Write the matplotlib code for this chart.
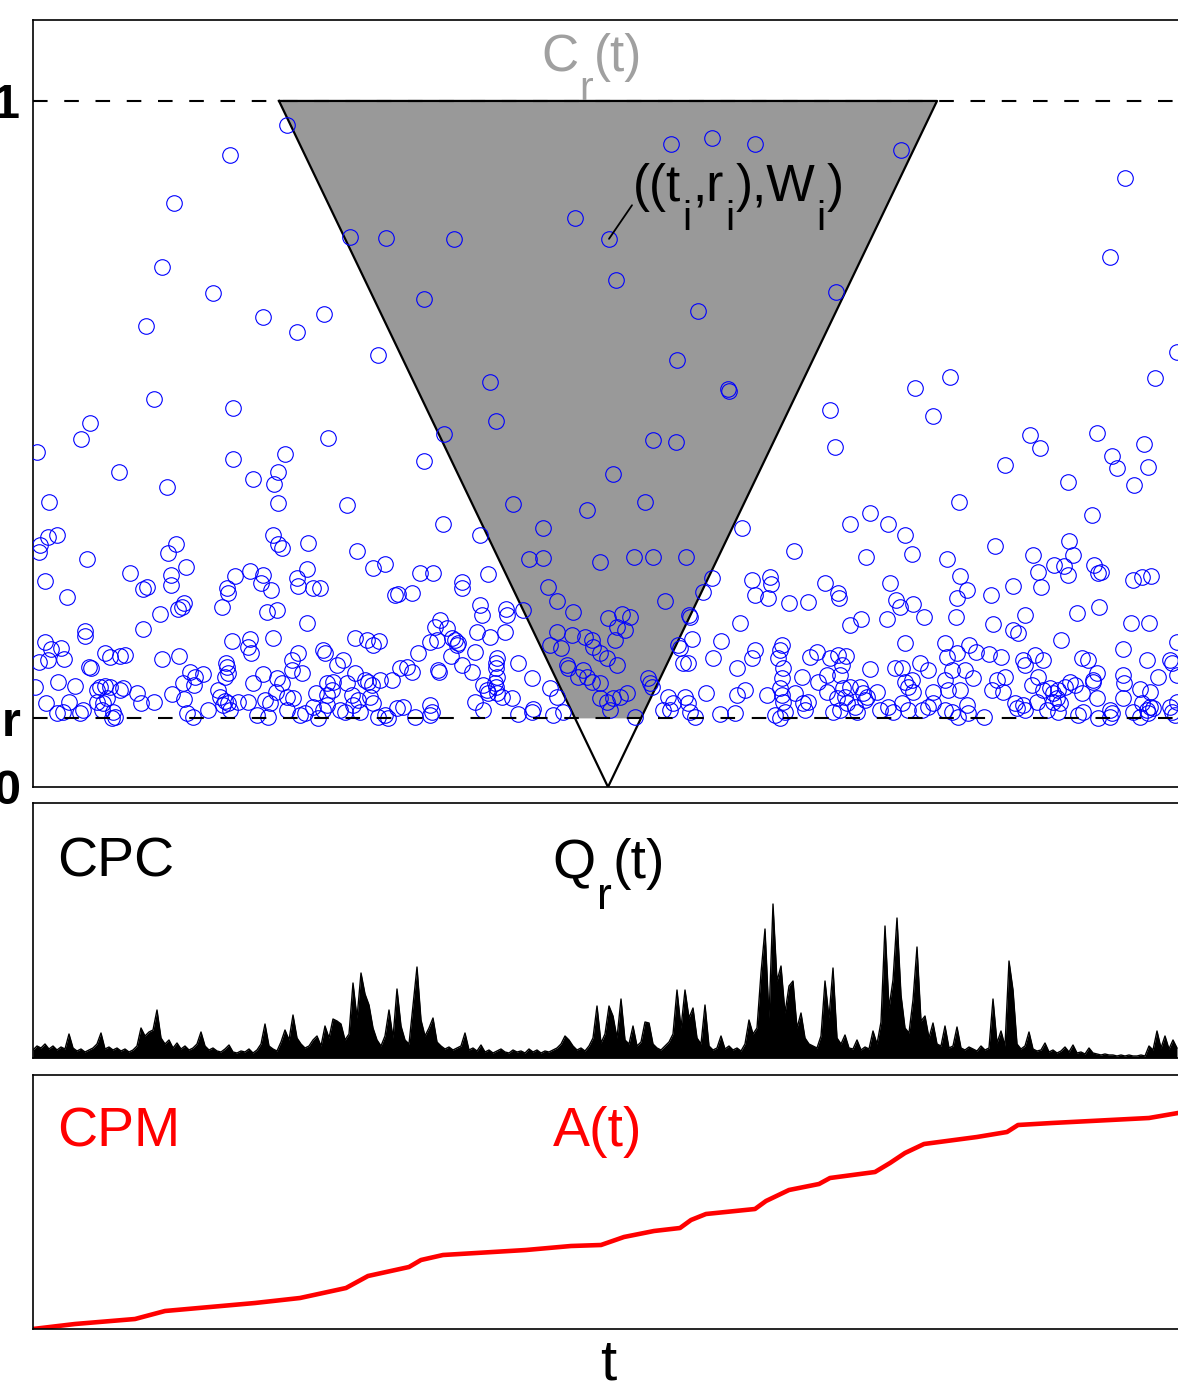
import numpy as np
import matplotlib
matplotlib.use("Agg")
import matplotlib.pyplot as plt

plt.rcParams['font.family'] = ['Liberation Sans', 'DejaVu Sans']

# --- events (t_i, r_i), t in arbitrary time units, r in [0, 1] ---
events_upper = [
    (254, .965), (197, .921), (141, .851), (129, .758), (180, .720), (113, .672), (230, .685),
    (264, .663), (291, .690), (121, .566), (200, .552), (57, .531), (48, .507), (4, .488),
    (295, .509), (200, .478), (252, .485), (86, .459), (134, .437), (220, .449), (245, .459),
    (241, .442), (245, .414), (16, .415),
    (317, .802), (353, .800), (421, .799), (542, .829), (576, .799), (583, .739), (391, .711),
    (345, .630), (457, .590), (463, .534), (411, .515), (391, .475), (580, .456), (314, .411),
    (480, .413), (554, .404), (510, .378), (410, .383), (447, .367),
    (638, .937), (679, .946), (722, .937), (868, .929), (665, .694), (644, .622), (695, .580),
    (696, .577), (803, .722), (620, .506), (643, .503), (612, .415), (797, .550), (802, .496),
    (709, .378), (817, .383), (837, .399), (855, .383), (872, .367), (882, .582),
    (1092, .888), (1077, .773), (1144, .634), (1122, .596), (917, .598), (900, .541),
    (997, .513), (1007, .494), (1064, .516), (1111, .500), (1079, .483), (1084, .465),
    (1115, .466), (972, .469), (1035, .445), (1101, .440), (926, .415), (1059, .397),
]

events_left = [
    (7, .353), (6, .343), (15, .364), (24, .367), (54, .332), (12, .300), (34, .277), (97, .312),
    (110, .289), (114, .292), (127, .252), (110, .230), (135, .341), (143, .354), (138, .309),
    (138, .294), (153, .321), (145, .259), (149, .262), (151, .268), (189, .262), (194, .290),
    (195, .283), (202, .308), (217, .315), (230, .309), (228, .297), (238, .287), (234, .255),
    (244, .258), (240, .367), (245, .354), (249, .348), (275, .356), (274, .318), (264, .305),
    (265, .293), (280, .290), (274, .239), (199, .213), (217, .216), (215, .204), (218, .195),
    (240, .217), (290, .200), (292, .195), (52, .227), (52, .220), (12, .211), (18, .201),
    (28, .203), (6, .182), (15, .185), (31, .187), (56, .175), (58, .173), (72, .195), (77, .190),
    (87, .191), (92, .192), (129, .187), (146, .191), (157, .168), (162, .160), (170, .165),
    (150, .152), (161, .149), (25, .153), (42, .147), (2, .146), (64, .141), (67, .146),
    (72, .147), (77, .146), (87, .141), (90, .144), (104, .137), (139, .136), (151, .128),
    (13, .122), (36, .124), (64, .124), (70, .122), (74, .130), (108, .122), (121, .124),
    (185, .141), (187, .131), (192, .125), (195, .122), (190, .120), (194, .175), (195, .166),
    (192, .160), (193, .181), (220, .152), (230, .165), (244, .159), (249, .152), (259, .171),
    (269, .166), (265, .195), (259, .185), (243, .138), (254, .131), (260, .130), (205, .124),
    (215, .124), (232, .127), (237, .122), (283, .137), (294, .152), (280, .117), (24, .108),
    (30, .109), (47, .108), (69, .112), (80, .109), (82, .102), (79, .101), (50, .112),
    (154, .108), (160, .102), (175, .112), (197, .112), (224, .105), (235, .102), (254, .112),
    (267, .105), (272, .108), (285, .101), (290, .112),
]

events_mid = [
    (324, .344), (340, .319), (352, .325), (387, .312), (400, .312), (362, .280), (365, .281),
    (379, .283), (429, .299), (429, .290), (455, .310), (287, .290), (447, .265), (449, .251),
    (473, .259), (474, .251), (490, .258), (444, .226), (457, .219), (472, .226), (407, .243),
    (402, .233), (414, .232), (419, .217), (422, .214), (425, .210), (424, .207), (397, .211),
    (404, .214), (322, .217), (334, .214), (340, .207), (346, .213), (385, .195), (418, .191),
    (442, .197), (310, .185), (304, .178), (374, .175), (367, .173), (379, .168), (405, .171),
    (406, .168), (429, .178), (439, .168), (464, .188), (463, .181), (463, .173), (464, .160),
    (462, .152), (463, .146), (485, .181), (499, .159), (322, .166), (332, .156), (335, .153),
    (339, .149), (300, .153), (299, .141), (294, .134), (314, .152), (347, .156), (359, .156),
    (450, .149), (454, .141), (455, .137), (464, .137), (469, .131), (479, .130), (517, .144),
    (524, .131), (319, .134), (325, .127), (320, .120), (337, .131), (340, .122), (294, .120),
    (307, .112), (312, .109), (327, .109), (345, .102), (352, .105), (355, .101), (364, .115),
    (370, .117), (382, .102), (397, .120), (399, .109), (397, .105), (442, .124), (450, .112),
    (485, .106), (499, .109), (500, .114), (520, .105), (530, .109),
]

events_cone = [
    (496, .332), (510, .334), (567, .328), (515, .292), (524, .271), (540, .255), (575, .246),
    (584, .233), (524, .226), (539, .222), (552, .219), (559, .214), (560, .204), (517, .207),
    (528, .203), (567, .195), (574, .188), (582, .214), (584, .178), (534, .178), (535, .173),
    (545, .160), (554, .160), (559, .153), (567, .152), (550, .171), (567, .130), (574, .124),
    (580, .130), (577, .112),
    (601, .335), (620, .335), (653, .335), (632, .271), (589, .252), (597, .248), (592, .229),
    (679, .305), (670, .284), (656, .251), (657, .248), (645, .207), (647, .203), (650, .181),
    (655, .181), (615, .159), (617, .152), (619, .146), (594, .137), (587, .131), (602, .102),
]

events_right = [
    (761, .344), (833, .335), (719, .302), (722, .280), (735, .276), (737, .306), (738, .296),
    (756, .268), (775, .270), (792, .297), (805, .283), (806, .276), (857, .297), (863, .273),
    (867, .262), (707, .239), (817, .236), (828, .245), (854, .245), (872, .210), (659, .216),
    (688, .213), (680, .188), (722, .200), (719, .188), (704, .173), (749, .207), (747, .200),
    (745, .188), (750, .173), (777, .190), (784, .197), (797, .188), (805, .192), (813, .191),
    (809, .178), (807, .163), (837, .172), (862, .173), (869, .173), (749, .159), (769, .160),
    (785, .153), (794, .163), (872, .153), (875, .146), (673, .137), (635, .131), (640, .122),
    (652, .131), (655, .122), (657, .109), (630, .112), (637, .112), (662, .102), (687, .106),
    (702, .108), (704, .134), (712, .141), (734, .134), (747, .144), (749, .134), (750, .124),
    (752, .109), (742, .105), (747, .101), (762, .137), (770, .122), (775, .124), (794, .138),
    (804, .130), (810, .144), (817, .146), (812, .131), (814, .122), (807, .112), (800, .109),
    (827, .146), (830, .137), (834, .131), (832, .127), (844, .138), (822, .117), (824, .109),
    (847, .112), (855, .117), (860, .109), (869, .122), (875, .112), (772, .112),
    (879, .340), (914, .332), (962, .351), (927, .308), (934, .287), (924, .276), (923, .248),
    (880, .267), (891, .248), (958, .280), (980, .293), (960, .238), (980, .229), (985, .224),
    (992, .251), (1000, .338), (1005, .313), (1008, .292), (1021, .324), (1031, .322),
    (1035, .309), (1036, .359), (1040, .338), (1061, .324), (1065, .312), (1068, .313),
    (1044, .254), (1066, .262), (1028, .214), (1100, .302), (1109, .306), (1118, .308),
    (1098, .239), (1116, .239), (1090, .201), (1114, .185), (1144, .211), (912, .210),
    (914, .190), (924, .195), (936, .207), (943, .197), (956, .194), (968, .190), (887, .181),
    (895, .171), (919, .171), (932, .171), (990, .185), (992, .178), (1002, .192), (1010, .185),
    (1049, .188), (1055, .185), (1064, .166), (1060, .156), (1137, .185), (1139, .181),
    (1144, .163), (1125, .160), (1090, .163), (1091, .152), (1107, .143), (1117, .138),
    (879, .156), (880, .138), (900, .138), (912, .156), (915, .141), (927, .141), (940, .159),
    (959, .141), (964, .156), (970, .138), (972, .160), (999, .149), (1005, .160), (1010, .141),
    (1017, .144), (1020, .137), (1025, .141), (1024, .130), (1020, .124), (1032, .146),
    (1037, .153), (1042, .149), (1049, .137), (1060, .153), (1064, .130), (1090, .130),
    (889, .112), (895, .117), (900, .122), (912, .112), (919, .109), (925, .102), (934, .120),
    (935, .108), (951, .102), (982, .122), (984, .115), (990, .120), (992, .112), (1004, .124),
    (1014, .112), (1025, .109), (1027, .122), (1045, .105), (1050, .109), (1065, .101),
    (1077, .112), (1077, .102), (1079, .108), (1100, .109), (1107, .102), (1114, .112),
    (1115, .108), (1117, .117), (1120, .115), (1109, .122), (1137, .117), (1139, .109),
    (1142, .105), (1144, .124),
]

annotated_event = (576, .799)
r_thresh = 0.1
cone_center = 575
cone_halfwidth = 329   # time units per unit r

# --- CPC: Q_r(t) sampled every 4 time units (arbitrary units) ---
q_step = 4
q_vals = [
    8, 12, 10, 14, 9, 12, 8, 11, 9, 24,
    10, 7, 9, 6, 8, 10, 14, 25, 9, 11,
    8, 10, 7, 9, 6, 8, 12, 30, 22, 26,
    28, 48, 20, 14, 18, 10, 15, 9, 12, 8,
    10, 14, 26, 12, 8, 10, 7, 6, 9, 13,
    6, 5, 7, 6, 9, 5, 8, 14, 34, 12,
    9, 7, 16, 28, 18, 43, 20, 14, 10, 12,
    18, 22, 12, 32, 20, 39, 37, 34, 18, 24,
    75, 40, 85, 64, 53, 30, 18, 12, 22, 48,
    20, 69, 32, 18, 14, 53, 91, 38, 22, 30,
    40, 16, 12, 9, 11, 8, 10, 12, 25, 8,
    10, 7, 13, 6, 8, 5, 7, 9, 6, 5,
    8, 6, 7, 5, 9, 6, 8, 5, 7, 6,
    8, 10, 14, 22, 18, 12, 8, 10, 7, 12,
    20, 52, 15, 24, 52, 42, 20, 59, 18, 14,
    32, 12, 16, 36, 35, 14, 10, 8, 12, 16,
    24, 68, 30, 68, 40, 50, 20, 14, 53, 12,
    8, 10, 22, 9, 12, 8, 10, 7, 14, 38,
    24, 30, 85, 129, 40, 154, 77, 92, 45, 72,
    77, 30, 45, 20, 14, 12, 10, 22, 77, 40,
    90, 20, 14, 23, 10, 9, 18, 8, 11, 9,
    27, 14, 36, 132, 50, 78, 140, 63, 30, 25,
    58, 111, 37, 42, 20, 35, 14, 12, 32, 10,
    12, 31, 10, 8, 11, 9, 7, 12, 8, 10,
    59, 15, 27, 12, 97, 68, 14, 9, 12, 26,
    9, 7, 8, 15, 6, 8, 5, 7, 11, 6,
    13, 5, 6, 4, 10, 5, 4, 3, 4, 3,
    3, 2, 3, 2, 3, 2, 2, 3, 2, 12,
    8, 27, 10, 22, 9, 18, 10,
]

# --- CPM: A(t) (arbitrary units) ---
a_t = [0, 42, 102, 132, 222, 267, 313, 335, 376, 388, 410, 493, 538, 568, 591, 621, 647,
       658, 673, 722, 733, 756, 786, 797, 842, 857, 872, 891, 944, 974, 985, 1019, 1116, 1145]
a_vals = [0, 5, 10, 18, 26, 31, 41, 53, 62, 69, 74, 79, 83, 84, 92, 98, 101,
          109, 115, 120, 128, 139, 145, 151, 157, 166, 176, 185, 192, 197, 204, 206, 211, 216]

T_MAX = 1150


def sub_text(ax, x, y, parts, size, color='k', transform=None):
    """Write text with MATLAB-like subscripts; parts = [(string, is_sub), ...]."""
    sub_size = size * 0.8
    shift = 0.54 * size - 0.212 * (size - sub_size)
    prev = ax.text(x, y, parts[0][0], fontsize=size, color=color, va='baseline',
                   ha='left', transform=transform if transform else ax.transData)
    prev_sub = parts[0][1]
    for s, is_sub in parts[1:]:
        dy = 0
        if is_sub and not prev_sub:
            dy = -shift
        elif prev_sub and not is_sub:
            dy = shift
        prev = ax.annotate(s, xy=(1, 0), xycoords=prev, xytext=(0.8, dy),
                           textcoords='offset points', fontsize=sub_size if is_sub else size,
                           color=color, va='bottom', ha='left')
        prev_sub = is_sub


W, H = 1178, 1385
fig = plt.figure(figsize=(W / 100, H / 100), dpi=100)
ax1 = fig.add_axes([33 / W, 1 - 787 / H, 1150 / W, 767 / H])
ax2 = fig.add_axes([33 / W, 1 - 1058 / H, 1150 / W, 255 / H])
ax3 = fig.add_axes([33 / W, 1 - 1329 / H, 1150 / W, 254 / H])

for ax in (ax1, ax2, ax3):
    ax.set_xlim(0, T_MAX)
    ax.set_xticks([])
    for s in ax.spines.values():
        s.set_linewidth(1.2)

# ---- top panel: events and cone ----
ax1.set_ylim(0, 1.118)
left_top = cone_center - cone_halfwidth
right_top = cone_center + cone_halfwidth
ax1.fill([left_top, right_top, cone_center + cone_halfwidth * r_thresh,
          cone_center - cone_halfwidth * r_thresh],
         [1, 1, r_thresh, r_thresh], color='#999999', lw=0, zorder=1)
ax1.plot([left_top, right_top, cone_center, left_top], [1, 1, 0, 1],
         color='k', lw=1.6, zorder=2)

dash = (0, (7, 8))
ax1.axhline(1, color='k', lw=1.5, ls=dash, zorder=2)
ax1.axhline(r_thresh, color='k', lw=1.5, ls=dash, zorder=4)

pts = np.array(events_upper + events_left + events_mid + events_cone + events_right)
ax1.plot(pts[:, 0], pts[:, 1], 'o', mfc='none', mec='#0000ff', ms=11.2, mew=0.8, zorder=3)

ax1.annotate('', xy=annotated_event, xytext=(599, 0.848),
             arrowprops=dict(arrowstyle='-', color='k', lw=1.3, shrinkA=0, shrinkB=0))
sub_text(ax1, 600, 0.854, [('((t', False), ('i', True), (',r', False), ('i', True),
                           ('),W', False), ('i', True), (')', False)], 37)
sub_text(ax1, 508, 1.043, [('C', False), ('r', True), ('(t)', False)], 37, color='#a0a0a0')

ax1.set_yticks([0, r_thresh, 1])
ax1.set_yticklabels(['0', 'r', '1'], fontsize=35, fontweight='bold')
ax1.tick_params(axis='y', length=0, pad=9)

# ---- middle panel: CPC ----
q_t = np.arange(len(q_vals)) * q_step
ax2.fill_between(q_t, 0, q_vals, color='k', lw=0)
ax2.plot(q_t, q_vals, color='k', lw=1.0)
ax2.set_ylim(0, 255)
ax2.set_yticks([])
ax2.text(0.021, 0.71, 'CPC', fontsize=40, transform=ax2.transAxes, va='baseline')
sub_text(ax2, 0.452, 0.706, [('Q', False), ('r', True), ('(t)', False)], 40,
         transform=ax2.transAxes)

# ---- bottom panel: CPM ----
ax3.plot(a_t, a_vals, color='#ff0000', lw=3.3)
ax3.set_ylim(0, 254)
ax3.set_yticks([])
ax3.text(0.021, 0.72, 'CPM', fontsize=40, color='#ff0000', transform=ax3.transAxes,
         va='baseline')
ax3.text(0.452, 0.72, 'A(t)', fontsize=40, color='#ff0000', transform=ax3.transAxes,
         va='baseline')

fig.text(608 / W, 1 - 1379 / H, 't', fontsize=42, ha='center', va='baseline')

fig.savefig('out.png', dpi=100)
